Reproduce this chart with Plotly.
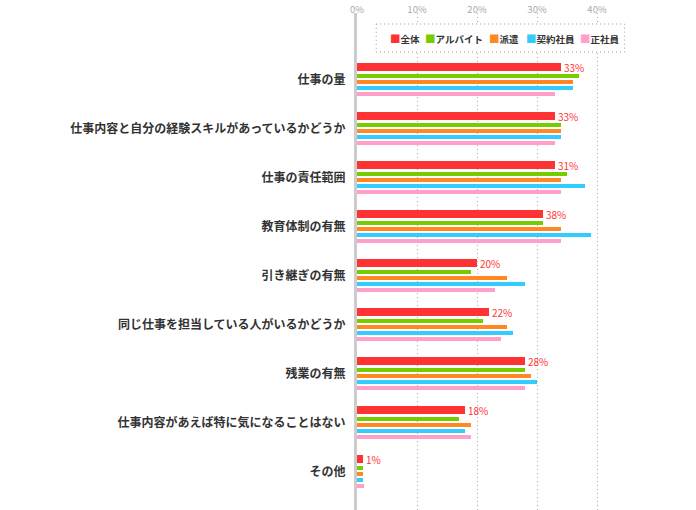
import plotly.graph_objects as go

# データ（%）
categories = [
    '仕事の量',
    '仕事内容と自分の経験スキルがあっているかどうか',
    '仕事の責任範囲',
    '教育体制の有無',
    '引き継ぎの有無',
    '同じ仕事を担当している人がいるかどうか',
    '残業の有無',
    '仕事内容があえば特に気になることはない',
    'その他',
]
series_names = ['全体', 'アルバイト', '派遣', '契約社員', '正社員']
zentai = [34, 33, 33, 31, 20, 22, 28, 18, 1]
arubaito = [37, 34, 35, 31, 19, 21, 28, 17, 1]
haken = [36, 34, 34, 34, 25, 25, 29, 19, 1]
keiyaku = [36, 34, 38, 39, 28, 26, 30, 18, 1]
seishain = [33, 33, 34, 34, 23, 24, 28, 19, 1.2]
zentai_labels = ['33%', '33%', '31%', '38%', '20%', '22%', '28%', '18%', '1%']
x_ticks = [0, 10, 20, 30, 40]

colors = ['#ff3333', '#77cc00', '#ff8822', '#33ccff', '#ff9fcc']
font = 'Noto Sans CJK JP'

# 縦方向はピクセル単位（プロット上端から）
pitch = 49
offsets = [54, 63, 69, 75, 81]
widths = [8, 4, 4, 4, 4]
label_off = 67

fig = go.Figure()
all_series = [zentai, arubaito, haken, keiyaku, seishain]
for k, (name, vals) in enumerate(zip(series_names, all_series)):
    ys = [offsets[k] + pitch * i for i in range(len(categories))]
    bar = dict(x=vals, y=ys, orientation='h', name=name, width=widths[k],
               marker=dict(color=colors[k], line=dict(width=0)),
               showlegend=False, hoverinfo='skip')
    if k == 0:
        bar.update(text=zentai_labels, textposition='outside', constraintext='none',
                   cliponaxis=False,
                   textfont=dict(family=font, size=10, color='#ff3333'))
    fig.add_trace(go.Bar(**bar))

fig.update_layout(
    width=696, height=510,
    margin=dict(l=357, r=69, t=13, b=0),
    paper_bgcolor='white', plot_bgcolor='white',
    barmode='overlay', bargap=0,
    font=dict(family=font, color='#333333'),
)
fig.update_xaxes(
    range=[0, 45], side='top', tickvals=x_ticks, ticktext=[f'{v}%' for v in x_ticks],
    tickfont=dict(family=font, size=9.5, color='#aaaaaa'),
    showgrid=True, gridcolor='#aaaaaa', gridwidth=1, griddash='1px,3px',
    zeroline=False, showline=False, ticks='', fixedrange=True, automargin=False,
    ticklabelstandoff=-3,
)
fig.update_yaxes(
    range=[497, 0], tickvals=[label_off + pitch * i for i in range(len(categories))],
    ticktext=categories, tickfont=dict(family=font, size=12, color='#333333', weight='bold'),
    showgrid=False, zeroline=False, showline=True, linecolor='#cccccc', linewidth=3,
    layer='above traces', ticks='', ticklabelstandoff=6, fixedrange=True, automargin=False,
)

# 凡例（点線枠）
fig.add_shape(type='rect', xref='x', yref='y', x0=3.2, x1=44.6, y0=11, y1=39,
              line=dict(color='#999999', width=1, dash='1px,3px'), fillcolor='white', layer='above')
legend_x = [5.2, 11.0, 21.7, 27.9, 36.8]
for k, name in enumerate(series_names):
    fig.add_annotation(x=legend_x[k], y=25, xref='x', yref='y', xanchor='left', yanchor='middle',
                       showarrow=False,
                       text=f"<span style='color:{colors[k]};font-size:10.5px'>■</span><b>{name}</b>",
                       font=dict(family=font, size=9.5, color='#333333'))

fig.write_html('out.html', config={'displayModeBar': False},
               post_script="document.body.style.margin='0';")
